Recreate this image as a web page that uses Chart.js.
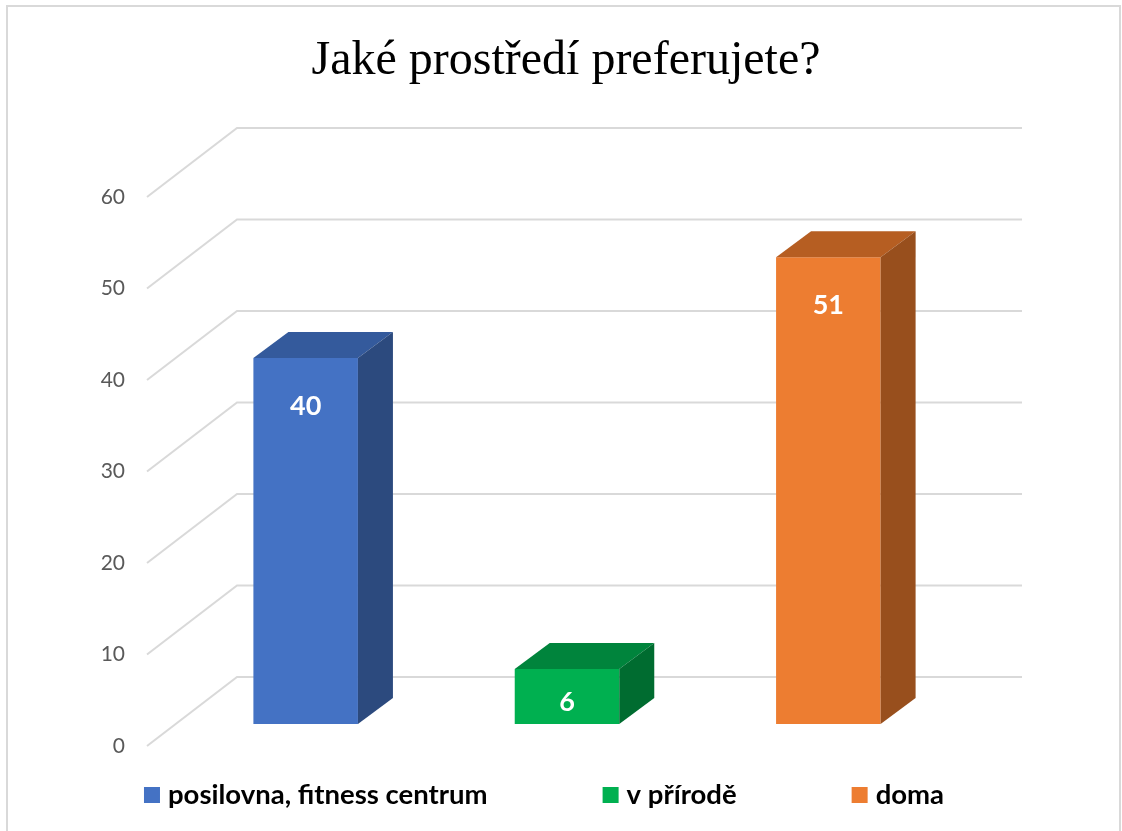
<!DOCTYPE html>
<html lang="cs">
<head>
<meta charset="UTF-8">
<title>Jaké prostředí preferujete?</title>
<script src="https://cdn.jsdelivr.net/npm/chart.js"></script>
<style>
  body { margin: 0; background: #fff; }
  .graf { position: relative; width: 1122px; height: 831px; overflow: hidden; }
</style>
</head>
<body>
<div class="graf"><canvas id="myChart"></canvas></div>

<script>
  // data z grafu
  var kategorie = ['posilovna, fitness centrum', 'v přírodě', 'doma'];
  var hodnoty = [40, 6, 51];
  var osaHodnoty = [0, 10, 20, 30, 40, 50, 60];

  var barvyPredni = ['#4472C4', '#00B050', '#ED7D31'];
  var barvyHorni = ['#345A9C', '#00843C', '#B65E22'];
  var barvyBok = ['#2C4A7E', '#006C30', '#984F1D'];

  var hloubka = { dx: 35, dy: -26 };   // posun zadni steny sloupce
  var mrizka = '#d9d9d9';

  var prostor3d = {
    id: 'prostor3d',
    beforeDraw: function (chart) {
      var ctx = chart.ctx;
      ctx.save();
      ctx.fillStyle = '#fff';
      ctx.fillRect(0, 0, chart.width, chart.height);
      ctx.strokeStyle = mrizka;
      ctx.lineWidth = 2;
      ctx.strokeRect(7, 6, 1113, 840);
      ctx.restore();
    },
    beforeDatasetsDraw: function (chart) {
      var ctx = chart.ctx;
      var y = chart.scales.y;
      var a = chart.chartArea;
      ctx.save();
      ctx.strokeStyle = mrizka;
      ctx.lineWidth = 2;
      osaHodnoty.forEach(function (v) {
        var p = y.getPixelForValue(v);
        ctx.beginPath();
        ctx.moveTo(a.left - 28, p + 22);
        ctx.lineTo(a.left + 62, p - 47);
        ctx.lineTo(a.right + 63, p - 47);
        ctx.stroke();
      });
      ctx.restore();
    },
    afterDatasetsDraw: function (chart) {
      var ctx = chart.ctx;
      var meta = chart.getDatasetMeta(0);
      var dx = hloubka.dx, dy = hloubka.dy;
      ctx.save();
      meta.data.forEach(function (bar, i) {
        var l = bar.x - bar.width / 2;
        var r = bar.x + bar.width / 2;
        var t = bar.y;
        var b = bar.base;

        ctx.fillStyle = barvyHorni[i];
        ctx.beginPath();
        ctx.moveTo(l, t);
        ctx.lineTo(l + dx, t + dy);
        ctx.lineTo(r + dx, t + dy);
        ctx.lineTo(r, t);
        ctx.closePath();
        ctx.fill();

        ctx.fillStyle = barvyBok[i];
        ctx.beginPath();
        ctx.moveTo(r, t);
        ctx.lineTo(r + dx, t + dy);
        ctx.lineTo(r + dx, b + dy);
        ctx.lineTo(r, b);
        ctx.closePath();
        ctx.fill();

        // popisek hodnoty
        ctx.fillStyle = '#fff';
        ctx.font = 'bold 27px Lato';
        ctx.textAlign = 'center';
        ctx.textBaseline = 'middle';
        ctx.fillText(String(hodnoty[i]), bar.x, t + Math.min(48, (b - t) * 0.6));
      });
      ctx.restore();
    },
    afterDraw: function (chart) {
      // legenda
      var ctx = chart.ctx;
      var stred = 544, yLeg = 795, box = 16, mezera = 115;
      ctx.save();
      ctx.font = 'bold 27.5px Lato';
      var sirky = kategorie.map(function (k) { return box + 8 + ctx.measureText(k).width; });
      var celkem = sirky.reduce(function (s, w) { return s + w; }, 0) + mezera * (kategorie.length - 1);
      var x = stred - celkem / 2;
      kategorie.forEach(function (k, i) {
        ctx.fillStyle = barvyPredni[i];
        ctx.fillRect(x, yLeg - box / 2, box, box);
        ctx.fillStyle = '#000';
        ctx.textAlign = 'left';
        ctx.textBaseline = 'middle';
        ctx.fillText(k, x + box + 8, yLeg);
        x += sirky[i] + mezera;
      });
      ctx.restore();
    }
  };

  var config = {
    type: 'bar',
    data: {
      labels: kategorie,
      datasets: [{
        label: 'Počet',
        data: hodnoty,
        backgroundColor: barvyPredni,
        borderWidth: 0,
        categoryPercentage: 1,
        barPercentage: 0.4
      }]
    },
    options: {
      responsive: true,
      maintainAspectRatio: false,
      animation: false,
      layout: { padding: { left: 10, right: 0, top: 0, bottom: 107 } },
      plugins: {
        legend: { display: false },
        tooltip: { enabled: false },
        title: {
          display: true,
          text: 'Jaké prostředí preferujete?',
          color: '#000',
          font: { family: 'Liberation Serif', size: 48, weight: 'normal', lineHeight: 1.2 },
          padding: { top: 33, bottom: 84.4 }
        }
      },
      scales: {
        x: { display: false },
        y: {
          min: 0,
          max: 60,
          grid: { display: false, drawTicks: false },
          border: { display: false },
          ticks: {
            stepSize: 10,
            labelOffset: 22,
            padding: 50,
            color: '#595959',
            font: { family: 'Lato', size: 21 }
          },
          afterFit: function (s) { s.width = 165; }
        },
        yR: {
          position: 'right',
          grid: { display: false, drawTicks: false },
          border: { display: false },
          ticks: { display: false },
          afterFit: function (s) { s.width = 163; }
        }
      }
    },
    plugins: [prostor3d]
  };

  new Chart(document.getElementById('myChart'), config);
</script>
</body>
</html>
